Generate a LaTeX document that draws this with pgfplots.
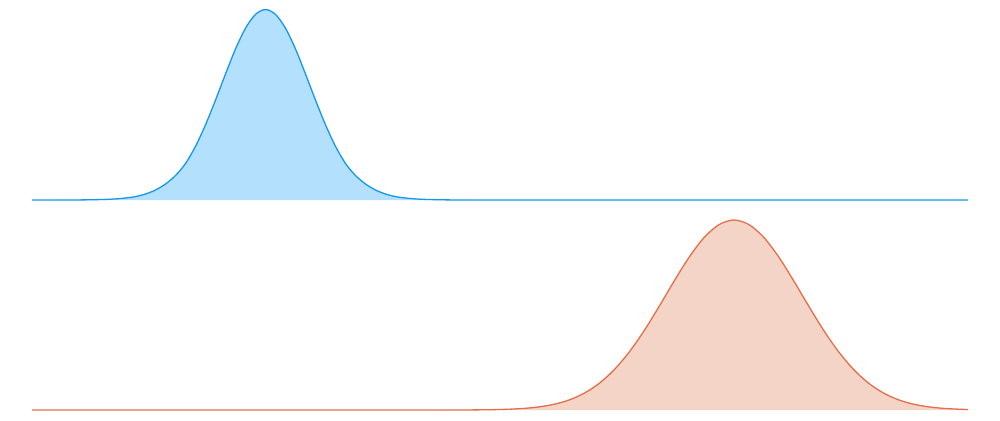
\documentclass[border=0pt]{standalone}
\usepackage{pgfplots}
\pgfplotsset{compat=1.18}
\definecolor{bline}{RGB}{22,152,232}
\definecolor{bfill}{RGB}{179,224,252}
\definecolor{oline}{RGB}{229,110,72}
\definecolor{ofill}{RGB}{245,212,200}
\begin{document}
\begin{tikzpicture}
\path[use as bounding box] (0,0) rectangle (500pt,210pt);
\pgfplotsset{panel/.style={hide axis, scale only axis, width=468pt, height=100pt,
  xmin=32, xmax=968, ymin=0, ymax=200, clip=false, anchor=south west}}
\pgfplotstableread{
x y
32 0
50 0
65.5 0.03
85.5 0.15
105.5 0.6
115.5 1.1
125.5 2.0
135.5 3.4
145.5 6
155.5 10
165.5 16
175.5 24.5
185.5 36.5
195.5 53.7
205.5 75.2
215.5 99.9
225.5 126.0
235.5 151.0
245.5 171.8
255.5 185.6
265.5 190.5
275.5 185.6
285.5 171.8
295.5 151.0
305.5 126.0
315.5 99.9
325.5 75.2
335.5 53.7
345.5 36.5
355.5 24.5
365.5 16
375.5 10
385.5 6
395.5 3.4
405.5 2.0
415.5 1.1
425.5 0.6
445.5 0.15
465.5 0.03
485 0
550 0
650 0
750 0
850 0
968 0
}\topdata
\pgfplotstableread{
x y
32 0
150 0
250 0
350 0
430 0
460 0.05
478 0.15
494 0.37
509 0.80
524 1.61
539 3.11
554 5.72
569 10.0
584 16.7
599 26.5
614 40.1
629 57.7
644 79.1
659 103.4
674 128.7
689 152.6
704 172.4
719 185.4
734 190
749 185.4
764 172.4
779 152.6
794 128.7
809 103.4
824 79.1
839 57.7
854 40.1
869 26.5
884 16.7
899 10.0
914 5.72
929 3.11
944 1.61
959 0.80
968 0.5
}\botdata
\begin{axis}[panel, at={(16pt,110pt)}]
\addplot[draw=none, fill=bfill, smooth] table {\topdata} \closedcycle;
\addplot[draw=bline, line width=0.65pt, smooth] table {\topdata};
\end{axis}
\begin{axis}[panel, at={(16pt,5pt)}]
\addplot[draw=none, fill=ofill, smooth] table {\botdata} \closedcycle;
\addplot[draw=oline, line width=0.65pt, smooth] table {\botdata};
\end{axis}
\end{tikzpicture}
\end{document}
